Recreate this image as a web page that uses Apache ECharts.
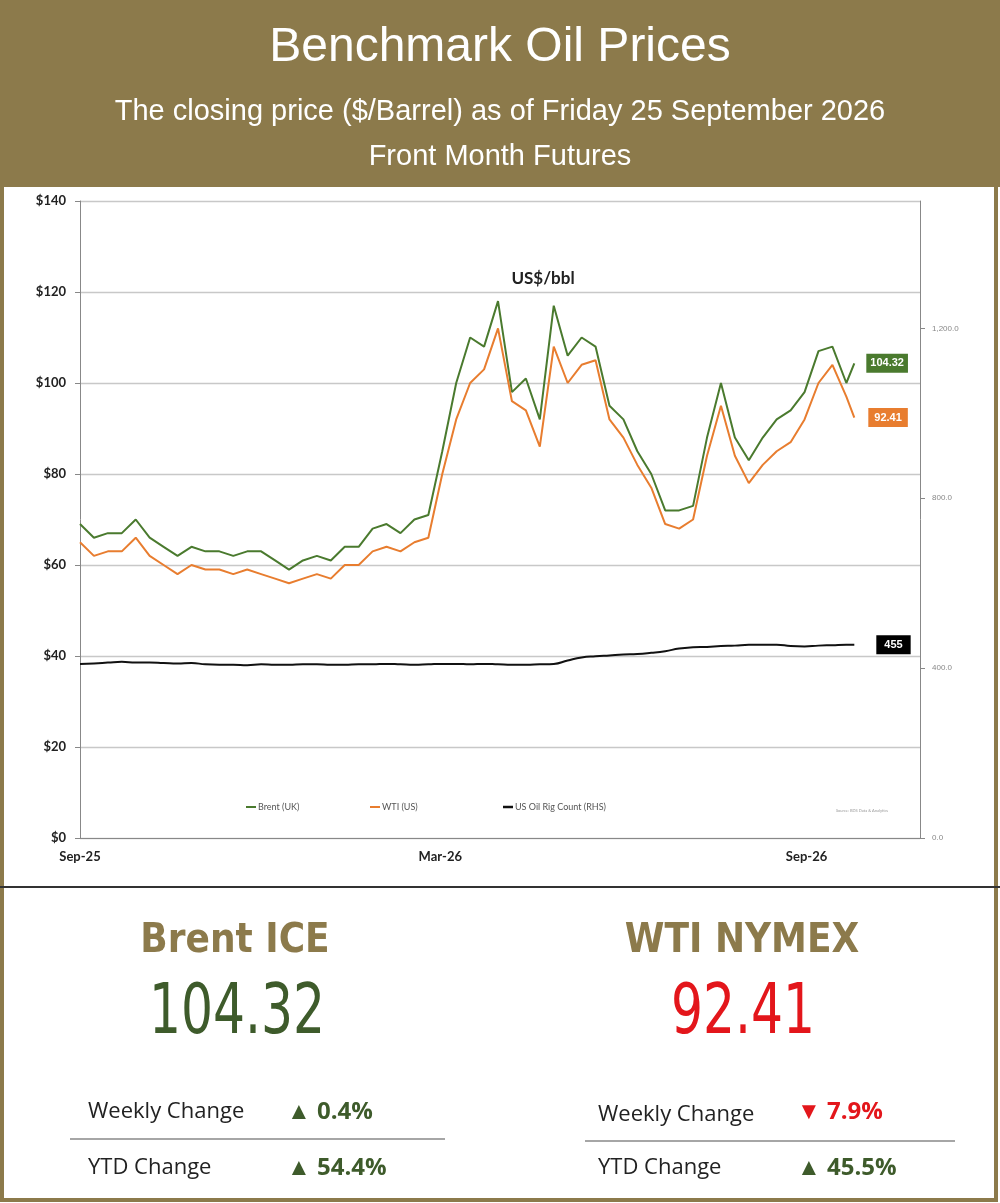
<!DOCTYPE html>
<html><head><meta charset="utf-8">
<script src="https://cdn.jsdelivr.net/npm/echarts@6/dist/echarts.min.js"></script>
<style>html,body{margin:0;padding:0;background:#fff}#c{width:1000px;height:1203px}</style>
</head><body><div id="c"></div>
<script>
const startDate = '2025-09-01';
const weeklyDates = (function(){const a=[];const s=new Date(startDate+'T00:00:00Z');for(let i=0;i<56;i++){const d=new Date(s.getTime()+i*7*86400000);a.push(d.toISOString().slice(0,10));}a.push('2026-09-25');return a;})();
const brent = [69,66,67,67,70,66,64,62,64,63,63,62,63,63,61,59,61,62,61,64,64,68,69,67,70,71,85,100,110,108,118,98,101,92,117,106,110,108,95,92,85,80,72,72,73,88,100,88,83,88,92,94,98,107,108,100,104.32];
const wti = [65,62,63,63,66,62,60,58,60,59,59,58,59,58,57,56,57,58,57,60,60,63,64,63,65,66,80,92,100,103,112,96,94,86,108,100,104,105,92,88,82,77,69,68,70,84,95,84,78,82,85,87,92,100,104,97,92.41];
const rigs = [410,411,413,415,413,413,412,411,412,409,408,408,407,409,408,408,409,409,408,408,409,409,410,409,408,409,410,410,409,410,409,408,408,409,410,418,425,428,430,432,433,436,440,446,449,450,452,453,455,455,455,452,451,453,454,455,455];
const xTickDays = [0,181,365];
const xTickLabels = ['Sep-25','Mar-26','Sep-26'];
const legendNames = ['Brent (UK)','WTI (US)','US Oil Rig Count (RHS)'];

const GOLD='#8C7A4B', GREEN='#4A7A2E', ORANGE='#E87D2F', DKGREEN='#3E5B2B', RED='#E3161B';
const dayOf = d => Math.round((Date.parse(d+'T00:00:00Z')-Date.parse(startDate+'T00:00:00Z'))/86400000);
const pts = arr => arr.map((v,i)=>[dayOf(weeklyDates[i]), v]);

const chart = echarts.init(document.getElementById('c'));
const txt = (x,y,t,style)=>({type:'text',x,y,style:Object.assign({text:t,fill:'#222',font:'14px Lato'},style)});
const big = (x,y,t,fill)=>({type:'text',x,y,scaleX:0.8,style:{text:t,fill,font:'70px "DejaVu Sans Condensed"',align:'center',verticalAlign:'middle'}});
chart.setOption({
  animation:false,
  grid:{left:80,right:80,top:201,bottom:365},
  xAxis:{type:'value',min:0,max:422,
    axisLine:{show:true,lineStyle:{color:'#888'}},
    axisTick:{show:false},splitLine:{show:false},
    axisLabel:{customValues:xTickDays,formatter:v=>xTickLabels[xTickDays.indexOf(v)]||'',color:'#222',fontWeight:'bold',fontFamily:'Lato',fontSize:13,margin:12}},
  yAxis:[
    {type:'value',min:0,max:140,interval:20,axisLine:{show:true,lineStyle:{color:'#888'}},
     axisLabel:{formatter:'${value}',color:'#222',fontWeight:'bold',fontFamily:'Lato',fontSize:13,margin:14},
     splitLine:{lineStyle:{color:'#c8c8c8',width:1.3}}},
    {type:'value',min:0,max:1500,interval:400,position:'right',axisLine:{show:true,lineStyle:{color:'#888'}},
     splitLine:{show:false},
     axisLabel:{showMaxLabel:false,formatter:v=>v.toLocaleString('en-US',{minimumFractionDigits:1}),color:'#888',fontSize:8,margin:12}}
  ],
  series:[
    {name:legendNames[0],type:'line',data:pts(brent),showSymbol:false,lineStyle:{color:GREEN,width:2},color:GREEN,
     endLabel:{show:true,formatter:'104.32',backgroundColor:GREEN,color:'#fff',fontWeight:'bold',fontSize:11,padding:[4,4],distance:12}},
    {name:legendNames[1],type:'line',data:pts(wti),showSymbol:false,lineStyle:{color:ORANGE,width:2},color:ORANGE,
     endLabel:{show:true,formatter:'92.41',backgroundColor:ORANGE,color:'#fff',fontWeight:'bold',fontSize:11,padding:[4,6],distance:14}},
    {name:legendNames[2],type:'line',yAxisIndex:1,data:pts(rigs),showSymbol:false,smooth:true,lineStyle:{color:'#111',width:2},color:'#111',
     endLabel:{show:true,formatter:'455',backgroundColor:'#000',color:'#fff',fontWeight:'bold',fontSize:11,padding:[4,8],distance:22}}
  ],
  graphic:[
    {type:'rect',shape:{x:0,y:0,width:1000,height:187},style:{fill:GOLD}},
    {type:'rect',shape:{x:2,y:2,width:994,height:1198},style:{fill:'none',stroke:GOLD,lineWidth:4}},
    txt(500,48,'Benchmark Oil Prices',{fill:'#fff',font:'48px "Liberation Sans"',align:'center',verticalAlign:'middle'}),
    txt(500,112,'The closing price ($/Barrel) as of Friday 25 September 2026',{fill:'#fff',font:'29px "Liberation Sans"',align:'center',verticalAlign:'middle'}),
    txt(500,157,'Front Month Futures',{fill:'#fff',font:'29px "Liberation Sans"',align:'center',verticalAlign:'middle'}),
    txt(543,279,'US$/bbl',{font:'bold 17px Lato',align:'center',verticalAlign:'middle'}),
    {type:'line',shape:{x1:246,y1:807,x2:256,y2:807},style:{stroke:GREEN,lineWidth:2}},
    txt(258,807,legendNames[0],{font:'9px Lato',fill:'#555',verticalAlign:'middle'}),
    {type:'line',shape:{x1:370,y1:807,x2:380,y2:807},style:{stroke:ORANGE,lineWidth:2}},
    txt(382,807,legendNames[1],{font:'9px Lato',fill:'#555',verticalAlign:'middle'}),
    {type:'line',shape:{x1:503,y1:807,x2:513,y2:807},style:{stroke:'#111',lineWidth:2.5}},
    txt(515,807,legendNames[2],{font:'9px Lato',fill:'#555',verticalAlign:'middle'}),
    txt(862,811,'Source: BDS Data & Analytics',{font:'4px Lato',fill:'#999',align:'center',verticalAlign:'middle'}),
    {type:'line',shape:{x1:0,y1:887,x2:1000,y2:887},style:{stroke:'#333',lineWidth:2}},
    txt(235,942,'Brent ICE',{fill:GOLD,font:'bold 40px "DejaVu Sans Condensed"',align:'center',verticalAlign:'middle'}),
    big(237,1015,'104.32',DKGREEN),
    txt(88,1112,'Weekly Change',{font:'22px "Open Sans"',verticalAlign:'middle'}),
    txt(287,1112,'▲ 0.4%',{fill:DKGREEN,font:'bold 24px "Open Sans"',verticalAlign:'middle'}),
    {type:'line',shape:{x1:70,y1:1139,x2:445,y2:1139},style:{stroke:'#888',lineWidth:1.5}},
    txt(88,1168,'YTD Change',{font:'22px "Open Sans"',verticalAlign:'middle'}),
    txt(287,1168,'▲ 54.4%',{fill:DKGREEN,font:'bold 24px "Open Sans"',verticalAlign:'middle'}),
    txt(742,942,'WTI NYMEX',{fill:GOLD,font:'bold 40px "DejaVu Sans Condensed"',align:'center',verticalAlign:'middle'}),
    big(743,1015,'92.41',RED),
    txt(598,1115,'Weekly Change',{font:'22px "Open Sans"',verticalAlign:'middle'}),
    txt(797,1112,'▼ 7.9%',{fill:RED,font:'bold 24px "Open Sans"',verticalAlign:'middle'}),
    {type:'line',shape:{x1:585,y1:1141,x2:955,y2:1141},style:{stroke:'#888',lineWidth:1.5}},
    txt(598,1168,'YTD Change',{font:'22px "Open Sans"',verticalAlign:'middle'}),
    txt(797,1168,'▲ 45.5%',{fill:DKGREEN,font:'bold 24px "Open Sans"',verticalAlign:'middle'})
  ]
});
</script></body></html>
